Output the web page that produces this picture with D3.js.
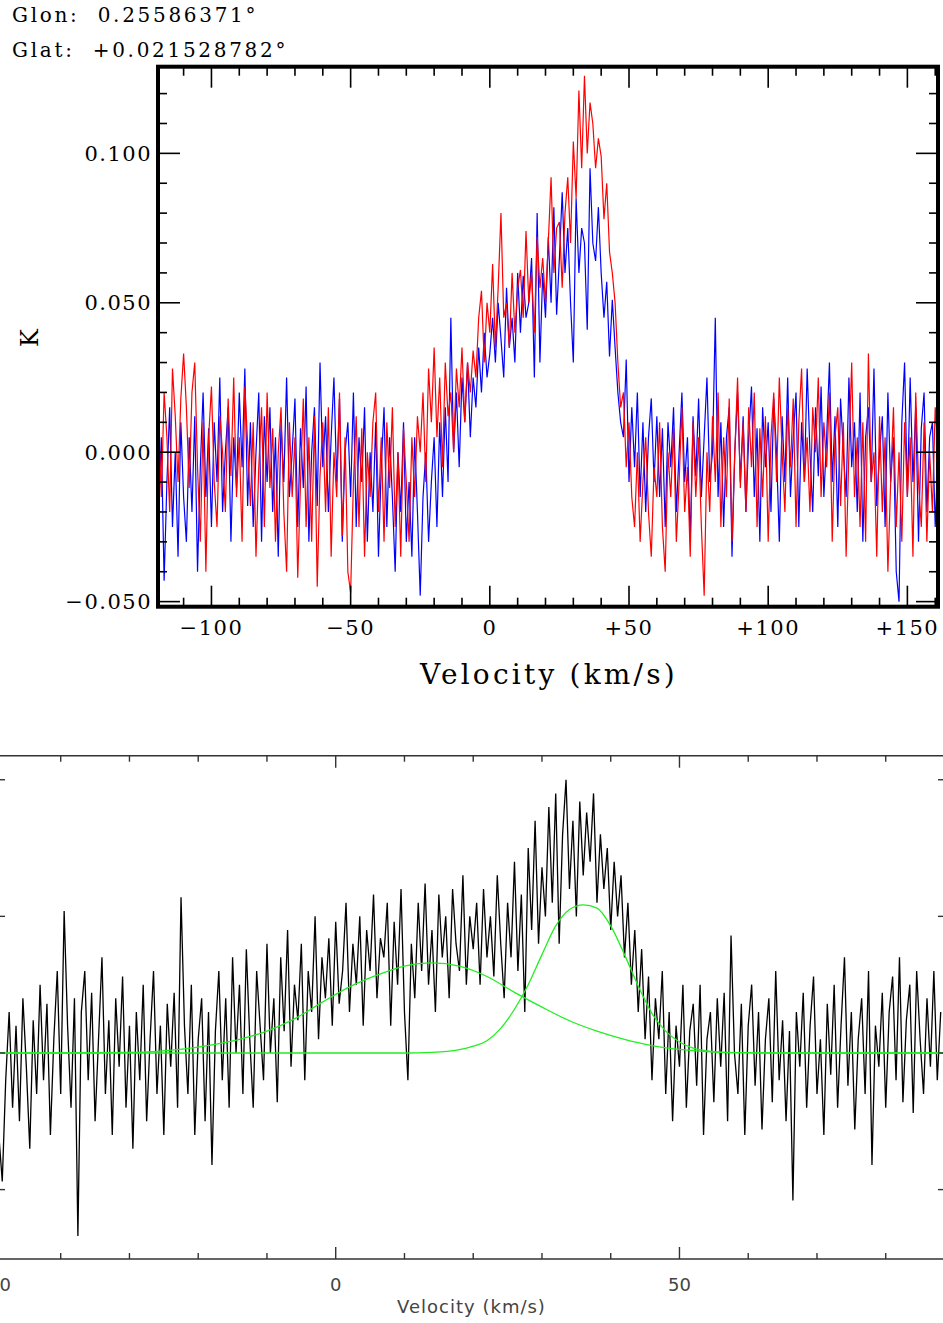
<!DOCTYPE html>
<html>
<head>
<meta charset="utf-8">
<script src="https://cdn.jsdelivr.net/npm/d3@7"></script>
<style>
  body { margin: 0; background: #fff; }
  svg { display: block; }
</style>
</head>
<body>
<svg id="chart" width="943" height="1323"></svg>
<script>
// top panel: two spectra, 1 km/s channels starting at -119 km/s
var topVelStart = -119;
var topVelStep = 1;
var redK = [
  0.010, -0.015, 0.020, 0.005, -0.020, 0.028, 0.012, -0.010, 0.018, 0.033,
  0.015, -0.012, 0.020, 0.030, -0.005, -0.030, 0.010, -0.040, 0.005, 0.022,
  -0.010, -0.025, 0.012, 0.000, -0.020, 0.018, -0.008, 0.025, -0.015, 0.005,
  -0.030, 0.022, 0.003, -0.018, 0.010, -0.035, -0.005, 0.015, -0.025, 0.020,
  -0.012, 0.008, -0.030, 0.000, 0.015, -0.020, -0.040, 0.010, -0.015, 0.005,
  -0.042, -0.010, 0.018, -0.025, 0.005, -0.030, 0.012, -0.045, -0.008, 0.010,
  -0.020, 0.015, -0.035, 0.000, -0.015, 0.020, -0.028, 0.005, -0.040, -0.047,
  -0.010, 0.012, -0.025, 0.008, -0.035, 0.000, -0.015, 0.010, 0.020, -0.020,
  0.005, -0.030, 0.010, -0.012, 0.015, -0.025, 0.000, -0.035, 0.008, -0.010,
  -0.030, 0.005, -0.015, 0.012, 0.000, 0.020, -0.010, 0.028, 0.010, 0.035,
  0.005, 0.025, -0.005, 0.030, 0.012, 0.020, 0.000, 0.028, 0.015, 0.035,
  0.010, 0.030, 0.020, 0.034, 0.025, 0.045, 0.054, 0.030, 0.050, 0.040,
  0.063, 0.035, 0.055, 0.080, 0.045, 0.050, 0.035, 0.060, 0.040, 0.055,
  0.061, 0.045, 0.074, 0.050, 0.060, 0.040, 0.072, 0.055, 0.065, 0.050,
  0.070, 0.092, 0.060, 0.075, 0.077, 0.055, 0.080, 0.092, 0.070, 0.104,
  0.085, 0.121, 0.095, 0.126, 0.100, 0.117, 0.110, 0.095, 0.105, 0.099,
  0.078, 0.090, 0.067, 0.060, 0.050, 0.030, 0.015, 0.020, -0.005, 0.010,
  -0.015, -0.025, 0.000, -0.030, -0.010, 0.005, -0.020, -0.035, -0.005, -0.015,
  0.010, -0.025, -0.040, 0.000, -0.015, 0.008, -0.030, -0.010, 0.015, -0.020,
  -0.005, -0.035, 0.010, -0.015, 0.005, -0.025, -0.048, 0.000, -0.020, 0.012,
  -0.010, 0.020, -0.025, 0.005, -0.015, 0.018, -0.030, 0.000, 0.025, -0.012,
  0.010, -0.020, 0.015, -0.005, 0.020, -0.025, 0.008, -0.015, 0.012, -0.030,
  0.005, 0.020, -0.010, 0.025, 0.000, -0.020, 0.015, -0.005, 0.018, -0.025,
  0.010, 0.028, -0.010, 0.005, -0.020, 0.015, 0.000, 0.025, -0.015, 0.010,
  -0.005, 0.020, -0.030, 0.005, 0.015, -0.018, 0.010, -0.035, 0.000, 0.030,
  -0.015, 0.005, -0.025, 0.010, -0.030, 0.033, -0.010, 0.000, -0.035, 0.012,
  -0.020, 0.005, -0.040, -0.010, 0.015, -0.025, 0.000, -0.030, 0.010, -0.015,
  0.005, -0.035, 0.020, -0.010, -0.025, 0.010, -0.030, 0.000, -0.020, 0.015, 0.000
];
var blueK = [
  -0.020, 0.005, -0.043, -0.010, 0.015, -0.025, 0.000, -0.035, 0.010, -0.015,
  -0.030, 0.005, -0.020, 0.012, -0.040, -0.005, 0.020, -0.015, 0.008, -0.025,
  0.010, -0.010, 0.025, -0.020, 0.000, 0.015, -0.030, 0.005, -0.012, 0.020,
  -0.005, 0.028, -0.018, 0.010, -0.025, 0.000, 0.020, -0.030, 0.012, -0.010,
  0.015, -0.020, 0.005, -0.035, 0.010, -0.010, 0.025, -0.015, 0.000, 0.018,
  -0.025, 0.008, -0.012, 0.022, -0.030, 0.000, 0.015, -0.018, 0.030, -0.005,
  0.012, -0.020, 0.005, 0.025, -0.010, 0.018, -0.030, 0.000, 0.010, -0.015,
  0.020, -0.025, 0.005, -0.010, 0.015, -0.030, 0.000, -0.020, 0.010, -0.035,
  -0.005, 0.015, -0.025, 0.005, -0.015, -0.040, 0.000, -0.020, 0.010, -0.030,
  -0.010, -0.035, 0.005, -0.020, -0.048, -0.015, 0.000, -0.030, -0.010, 0.005,
  -0.025, 0.010, -0.015, 0.015, -0.010, 0.045, 0.000, 0.020, -0.005, 0.025,
  0.010, 0.030, 0.005, 0.025, 0.015, 0.035, 0.020, 0.040, 0.025, 0.033,
  0.045, 0.030, 0.050, 0.038, 0.025, 0.055, 0.035, 0.045, 0.030, 0.060,
  0.040, 0.059, 0.045, 0.050, 0.065, 0.025, 0.080, 0.030, 0.060, 0.045,
  0.072, 0.050, 0.082, 0.046, 0.065, 0.087, 0.060, 0.075, 0.050, 0.030,
  0.085, 0.060, 0.075, 0.070, 0.041, 0.095, 0.070, 0.064, 0.082, 0.060,
  0.045, 0.057, 0.032, 0.051, 0.035, 0.020, 0.010, 0.005, 0.031, -0.010,
  0.015, -0.005, 0.020, -0.015, 0.010, -0.020, 0.005, 0.018, -0.010, 0.012,
  -0.015, 0.008, -0.025, 0.010, -0.005, 0.015, -0.020, 0.000, 0.020, -0.010,
  0.005, -0.030, 0.012, -0.008, 0.018, -0.015, 0.005, 0.025, -0.010, 0.000,
  0.045, -0.015, 0.010, -0.025, 0.005, 0.015, -0.035, 0.000, 0.020, -0.010,
  0.012, -0.020, 0.005, 0.022, -0.015, 0.008, -0.030, 0.015, -0.005, 0.010,
  -0.020, 0.018, 0.000, -0.030, 0.012, -0.010, 0.025, -0.015, 0.005, 0.020,
  -0.025, 0.010, -0.010, 0.028, 0.000, -0.020, 0.015, -0.008, 0.022, -0.015,
  0.005, 0.030, -0.010, 0.012, -0.025, 0.018, 0.000, -0.015, 0.025, -0.005,
  0.010, -0.020, 0.020, -0.030, 0.005, 0.015, -0.010, 0.028, -0.018, 0.000,
  0.012, -0.025, 0.020, -0.010, 0.005, -0.040, -0.050, 0.010, 0.030, -0.015,
  0.025, -0.010, 0.015, -0.030, 0.008, 0.020, -0.020, 0.005, 0.010, -0.025, 0.000
];
var topXTicks = [-100, -50, 0, 50, 100, 150];
var topXTickLabels = ["\u2212100", "\u221250", "0", "+50", "+100", "+150"];
var topYTicks = [-0.05, 0, 0.05, 0.1];
var topYTickLabels = ["\u22120.050", "0.000", "0.050", "0.100"];

// bottom panel: averaged spectrum (0.5 km/s channels from -49) and two gaussian fits
var botVelStart = -49;
var botVelStep = 0.5;
var blackK = [
  -0.030, -0.047, -0.010, 0.015, -0.020, 0.010, -0.025, 0.020, -0.005, -0.035,
  0.012, -0.015, 0.025, -0.010, 0.018, -0.030, 0.005, 0.030, -0.015, 0.052,
  0.010, -0.020, 0.020, -0.067, 0.015, 0.030, -0.010, 0.022, -0.025, 0.005,
  0.035, -0.015, 0.012, -0.030, 0.020, -0.005, 0.028, -0.020, 0.010, -0.035,
  0.015, -0.010, 0.025, -0.025, 0.005, 0.030, -0.015, 0.010, -0.030, 0.018,
  -0.005, 0.022, -0.020, 0.057, 0.010, -0.015, 0.025, -0.030, 0.005, 0.020,
  -0.025, 0.015, -0.041, 0.008, 0.030, -0.010, 0.020, -0.020, 0.035, 0.000,
  0.025, -0.015, 0.038, 0.005, -0.020, 0.030, 0.010, -0.010, 0.040, 0.000,
  0.020, -0.018, 0.035, 0.008, 0.045, -0.005, 0.025, 0.012, 0.040, -0.010,
  0.030, 0.015, 0.050, 0.005, 0.035, 0.020, 0.042, 0.010, 0.048, 0.018,
  0.030, 0.055, 0.015, 0.040, 0.025, 0.050, 0.010, 0.045, 0.030, 0.058,
  0.020, 0.042, 0.035, 0.055, 0.010, 0.048, 0.025, 0.060, 0.015, -0.010,
  0.040, 0.020, 0.055, 0.030, 0.062, 0.025, 0.045, 0.015, 0.058, 0.035,
  0.050, 0.020, 0.060, 0.040, 0.030, 0.065, 0.025, 0.050, 0.038, 0.055,
  0.025, 0.060, 0.035, 0.050, 0.028, 0.065, 0.040, 0.020, 0.055, 0.035,
  0.070, 0.030, 0.058, 0.015, 0.075, 0.045, 0.085, 0.040, 0.068, 0.050,
  0.090, 0.055, 0.095, 0.040, 0.080, 0.100, 0.060, 0.085, 0.050, 0.092,
  0.065, 0.088, 0.070, 0.095, 0.055, 0.080, 0.060, 0.075, 0.045, 0.070,
  0.050, 0.065, 0.035, 0.055, 0.025, 0.045, 0.015, 0.038, 0.005, 0.028,
  -0.010, 0.020, 0.005, 0.030, -0.015, 0.015, -0.025, 0.010, -0.005, 0.025,
  -0.020, 0.008, 0.018, -0.012, 0.025, -0.030, 0.005, 0.015, -0.018, 0.020,
  -0.005, 0.022, -0.025, 0.043, 0.000, -0.015, 0.018, -0.030, 0.010, 0.025,
  -0.012, 0.015, -0.028, 0.005, 0.020, -0.018, 0.030, -0.010, 0.012, -0.025,
  0.008, -0.054, 0.015, -0.005, 0.022, -0.020, 0.010, 0.028, -0.015, 0.005,
  -0.030, 0.018, -0.008, 0.025, -0.020, 0.010, 0.035, -0.012, 0.015, -0.028,
  0.005, 0.020, -0.015, 0.030, -0.041, 0.010, -0.005, 0.022, -0.020, 0.015,
  0.028, -0.010, 0.035, -0.018, 0.012, 0.025, -0.022, 0.030, 0.005, -0.015,
  0.020, -0.005, 0.030, -0.010, 0.015
];
var broadVel = [-49, -40, -30, -26, -22, -18, -14, -10, -6, -2, 2, 6, 10, 14, 18, 22, 26, 30, 34, 38, 42, 46, 50, 54, 60, 70, 89];
var broadK = [0, 0, 0.0002, 0.0006, 0.0015, 0.0030, 0.0050, 0.0080, 0.0125, 0.0185, 0.0242, 0.0285, 0.0318, 0.0330, 0.0318, 0.0280, 0.0222, 0.0168, 0.0118, 0.0080, 0.0050, 0.0027, 0.0013, 0.0005, 0.0001, 0, 0];
var narrowVel = [-49, 10, 14, 18, 20, 22, 24, 26, 28, 30, 32, 34, 36, 38, 40, 42, 44, 46, 48, 50, 52, 54, 58, 62, 89];
var narrowK = [0, 0, 0.0002, 0.0012, 0.0025, 0.0045, 0.0090, 0.0160, 0.0250, 0.0360, 0.0465, 0.0525, 0.0542, 0.0530, 0.0465, 0.0360, 0.0245, 0.0145, 0.0080, 0.0040, 0.0018, 0.0008, 0.0001, 0, 0];
var botXTicks = [-50, 0, 50];
var botXTickLabels = ["\u221250", "0", "50"];
var botYTicks = [-0.05, 0, 0.05, 0.1];

var svg = d3.select("#chart");

function drawTop() {
    var x = d3.scaleLinear().domain([-119.2, 161]).range([158, 938]);
    var y = d3.scaleLinear().domain([-0.0517, 0.129]).range([606.7, 66.7]);
    var serif = "'DejaVu Serif', serif";

    svg.append("clipPath").attr("id", "clipTop")
        .append("rect").attr("x", 158).attr("y", 66.7).attr("width", 780).attr("height", 540);

    var line = d3.line()
        .x(function(d, i) { return x(topVelStart + i * topVelStep); })
        .y(function(d) { return y(d); });

    var g = svg.append("g").attr("clip-path", "url(#clipTop)");
    g.append("path").datum(blueK).attr("d", line)
        .attr("fill", "none").attr("stroke", "#0000ff").attr("stroke-width", 1.2);
    g.append("path").datum(redK).attr("d", line)
        .attr("fill", "none").attr("stroke", "#ff0000").attr("stroke-width", 1.2);

    // ticks, all four sides, drawn inward
    var ticks = svg.append("g").attr("stroke", "#000").attr("stroke-width", 1.6);
    d3.range(-110, 161, 10).forEach(function(v) {
        var major = (v % 50 === 0);
        var len = major ? 21 : 9;
        ticks.append("line").attr("x1", x(v)).attr("x2", x(v)).attr("y1", 606.7).attr("y2", 606.7 - len);
        ticks.append("line").attr("x1", x(v)).attr("x2", x(v)).attr("y1", 66.7).attr("y2", 66.7 + len);
    });
    d3.range(-5, 13, 1).forEach(function(k) {
        var v = k / 100;
        var major = (k % 5 === 0);
        var len = major ? 22 : 9;
        ticks.append("line").attr("x1", 158).attr("x2", 158 + len).attr("y1", y(v)).attr("y2", y(v));
        ticks.append("line").attr("x1", 938).attr("x2", 938 - len).attr("y1", y(v)).attr("y2", y(v));
    });

    svg.append("rect").attr("x", 158).attr("y", 66.7).attr("width", 780).attr("height", 540)
        .attr("fill", "none").attr("stroke", "#000").attr("stroke-width", 4);

    svg.selectAll(".topxl").data(topXTicks).enter().append("text")
        .attr("x", function(d) { return x(d); })
        .attr("y", 635)
        .attr("text-anchor", "middle")
        .style("font-family", serif).style("font-size", "21px").style("letter-spacing", "1.5px")
        .text(function(d, i) { return topXTickLabels[i]; });

    svg.selectAll(".topyl").data(topYTicks).enter().append("text")
        .attr("x", 152)
        .attr("y", function(d) { return y(d) + 7.5; })
        .attr("text-anchor", "end")
        .style("font-family", serif).style("font-size", "21px").style("letter-spacing", "1.5px")
        .text(function(d, i) { return topYTickLabels[i]; });

    svg.append("text").attr("x", 549).attr("y", 684).attr("text-anchor", "middle")
        .style("font-family", serif).style("font-size", "28px").style("letter-spacing", "3.2px")
        .text("Velocity (km/s)");

    svg.append("text").attr("transform", "translate(38,338) rotate(-90)").attr("text-anchor", "middle")
        .style("font-family", serif).style("font-size", "24px")
        .text("K");

    svg.append("text").attr("x", 12).attr("y", 22)
        .style("font-family", serif).style("font-size", "20px").style("letter-spacing", "2.7px")
        .attr("xml:space", "preserve")
        .text("Glon:  0.25586371\u00b0");
    svg.append("text").attr("x", 12).attr("y", 57)
        .style("font-family", serif).style("font-size", "20px").style("letter-spacing", "2.7px")
        .attr("xml:space", "preserve")
        .text("Glat:  +0.021528782\u00b0");
}

function drawBottom() {
    var x = d3.scaleLinear().domain([-48.83, 88.33]).range([0, 943]);
    var y = d3.scaleLinear().domain([-0.0754, 0.1088]).range([1259, 755.7]);
    var sans = "'DejaVu Sans', sans-serif";

    svg.append("clipPath").attr("id", "clipBot")
        .append("rect").attr("x", 0).attr("y", 755.7).attr("width", 943).attr("height", 503.3);

    var g = svg.append("g").attr("clip-path", "url(#clipBot)");

    var trace = d3.line()
        .x(function(d, i) { return x(botVelStart + i * botVelStep); })
        .y(function(d) { return y(d); });
    g.append("path").datum(blackK).attr("d", trace)
        .attr("fill", "none").attr("stroke", "#000").attr("stroke-width", 1.3);

    var fit = d3.line()
        .curve(d3.curveMonotoneX)
        .x(function(d) { return x(d[0]); })
        .y(function(d) { return y(d[1]); });
    g.append("path").datum(d3.zip(broadVel, broadK)).attr("d", fit)
        .attr("fill", "none").attr("stroke", "#22ee22").attr("stroke-width", 1.3);
    g.append("path").datum(d3.zip(narrowVel, narrowK)).attr("d", fit)
        .attr("fill", "none").attr("stroke", "#22ee22").attr("stroke-width", 1.3);

    var axis = svg.append("g").attr("stroke", "#333").attr("stroke-width", 1.4);
    axis.append("line").attr("x1", 0).attr("x2", 943).attr("y1", 755.7).attr("y2", 755.7);
    axis.append("line").attr("x1", 0).attr("x2", 943).attr("y1", 1259).attr("y2", 1259);
    d3.range(-40, 89, 10).forEach(function(v) {
        var len = (v % 50 === 0) ? 12 : 6;
        axis.append("line").attr("x1", x(v)).attr("x2", x(v)).attr("y1", 1259).attr("y2", 1259 - len);
        axis.append("line").attr("x1", x(v)).attr("x2", x(v)).attr("y1", 755.7).attr("y2", 755.7 + len);
    });
    botYTicks.forEach(function(v) {
        axis.append("line").attr("x1", 0).attr("x2", 5).attr("y1", y(v)).attr("y2", y(v));
        axis.append("line").attr("x1", 943).attr("x2", 938).attr("y1", y(v)).attr("y2", y(v));
    });

    svg.selectAll(".botxl").data(botXTicks).enter().append("text")
        .attr("x", function(d) { return x(d); })
        .attr("y", 1291)
        .attr("text-anchor", "middle")
        .attr("fill", "#444")
        .style("font-family", sans).style("font-size", "18px")
        .text(function(d, i) { return botXTickLabels[i]; });

    svg.append("text").attr("x", 471.5).attr("y", 1313).attr("text-anchor", "middle")
        .attr("fill", "#444")
        .style("font-family", sans).style("font-size", "18px").style("letter-spacing", "1px")
        .text("Velocity (km/s)");
}

drawTop();
drawBottom();
</script>
</body>
</html>
